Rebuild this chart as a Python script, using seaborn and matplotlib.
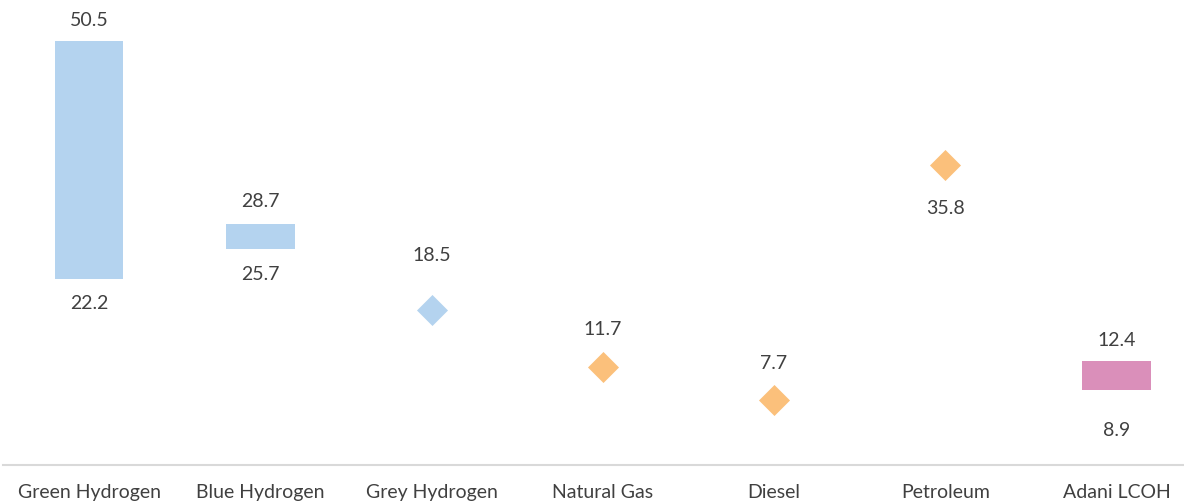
import matplotlib
matplotlib.use("Agg")
import matplotlib.pyplot as plt
import seaborn as sns
import pandas as pd

# ---- data ----
categories = ["Green Hydrogen", "Blue Hydrogen", "Grey Hydrogen", "Natural Gas",
              "Diesel", "Petroleum", "Adani LCOH"]
range_categories = ["Green Hydrogen", "Blue Hydrogen", "Adani LCOH"]
range_low = [22.2, 25.7, 8.9]
range_high = [50.5, 28.7, 12.4]
point_categories = ["Grey Hydrogen", "Natural Gas", "Diesel", "Petroleum"]
point_values = [18.5, 11.7, 7.7, 35.8]

# ---- style ----
BLUE = "#B4D3EF"
ORANGE = "#FBC07B"
PINK = "#DA8FBA"
TEXT = "#404040"
range_colors = [BLUE, BLUE, PINK]
point_colors = [BLUE, ORANGE, ORANGE, ORANGE]
# label offsets in pixels
range_top_off = [21, 23, 20]
range_bot_off = [25, 25, 40]
point_off = [54, 37, 37, -44]
FS = 14

sns.set_theme(style="white")
plt.rcParams["font.family"] = ["Lato", "DejaVu Sans"]

fig = plt.figure(figsize=(11.84, 5.04), dpi=100)
ax = fig.add_axes([3.4 / 1184, 39 / 504, 1198.75 / 1184, 465 / 504])

range_df = pd.DataFrame({"category": range_categories, "low": range_low, "high": range_high})
range_df["span"] = range_df["high"] - range_df["low"]

sns.barplot(data=range_df, x="category", y="span", order=categories,
            bottom=range_df["low"].values, width=0.4, color=BLUE, saturation=1,
            errorbar=None, linewidth=0, ax=ax)
for patch, c in zip(ax.patches, range_colors):
    patch.set_facecolor(c)

point_df = pd.DataFrame({"category": point_categories, "value": point_values})
sns.stripplot(data=point_df, x="category", y="value", order=categories,
              hue="category", palette=dict(zip(point_categories, point_colors)),
              marker="D", size=15.8, jitter=False, linewidth=0, legend=False, ax=ax)

# ---- labels ----
for cat, lo, hi, to, bo in zip(range_categories, range_low, range_high, range_top_off, range_bot_off):
    x = categories.index(cat)
    ax.annotate(f"{hi:.1f}", xy=(x, hi), xytext=(0, to * 0.72), textcoords="offset points",
                ha="center", va="center", fontsize=FS, color=TEXT)
    ax.annotate(f"{lo:.1f}", xy=(x, lo), xytext=(0, -bo * 0.72), textcoords="offset points",
                ha="center", va="center", fontsize=FS, color=TEXT)
for cat, v, o in zip(point_categories, point_values, point_off):
    x = categories.index(cat)
    ax.annotate(f"{v:.1f}", xy=(x, v), xytext=(0, o * 0.72), textcoords="offset points",
                ha="center", va="center", fontsize=FS, color=TEXT)

ax.set_xlim(-0.5, 6.5)
ax.set_ylim(0, 55.4)
ax.set_xlabel("")
ax.set_ylabel("")
ax.set_yticks([])
sns.despine(ax=ax, left=True)
ax.spines["bottom"].set_color("#D9D9D9")
ax.spines["bottom"].set_linewidth(1.5)
ax.tick_params(axis="x", length=0, pad=14, labelsize=FS, labelcolor=TEXT)

fig.savefig("out.png", dpi=100)
